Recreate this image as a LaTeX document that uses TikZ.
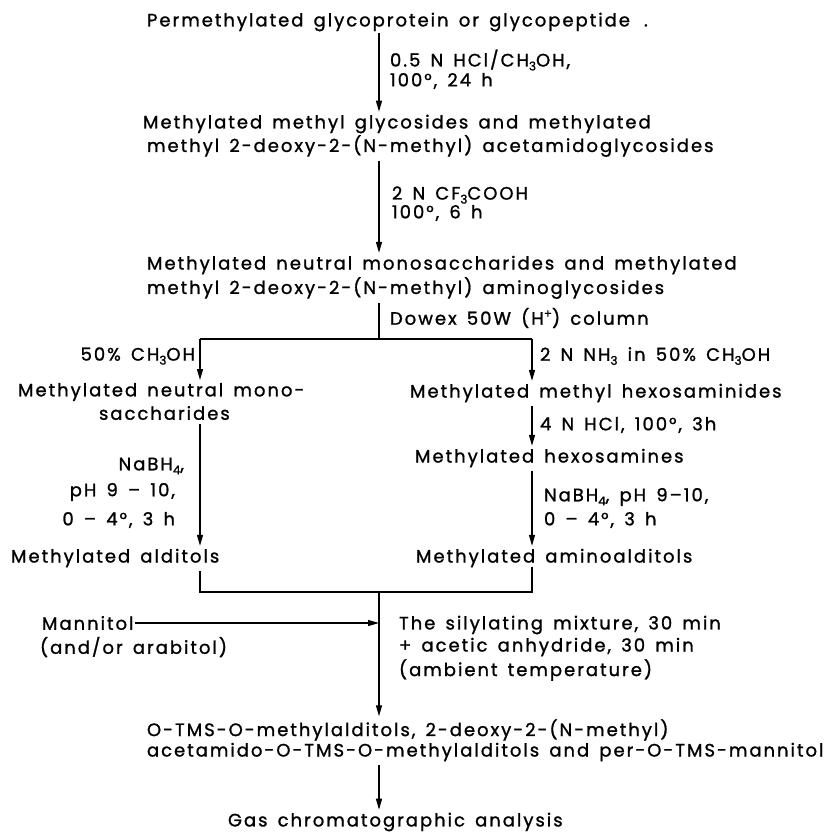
\documentclass[tikz,border=0pt]{standalone}
\usepackage{fontspec}
\setmainfont{Poppins}[LetterSpace=11,WordSpace=1.5,FakeBold=1.2]
\usetikzlibrary{arrows.meta}
\newcommand{\lsub}[1]{\raisebox{-0.4ex}{\fontsize{12}{12}\selectfont #1}}
\newcommand{\lsup}[1]{\raisebox{0.7ex}{\fontsize{12}{12}\selectfont #1}}
\begin{document}
\begin{tikzpicture}[x=1pt,y=-1pt,
  txt/.style={inner sep=0pt, outer sep=0pt, font=\fontsize{18}{18}\selectfont, anchor=west},
  rtxt/.style={txt, anchor=east},
  ln/.style={line width=1.3pt},
  arr/.style={ln, -{Triangle[length=11pt,width=6pt]}, shorten >=3pt},
]
\useasboundingbox (0,0) rectangle (835,833);
\coordinate (cx) at (379,0);
\coordinate (lx) at (200,0);
\coordinate (rx) at (532,0);
\coordinate (split) at (379,339);
\coordinate (join) at (379,592);

\node[txt] (title) at (147,22) {Permethylated glycoprotein or glycopeptide\hspace{14pt}\mbox{.}};
\node[txt] (c1a) at (390,60) {0.5 N HCl/CH\lsub{3}OH,};
\node[txt] (c1b) at (390,81) {100°, 24 h};
\node[txt] (l1a) at (143,124) {Methylated methyl glycosides and methylated};
\node[txt] (l1b) at (147,146) {methyl 2-deoxy-2-(N-methyl) acetamidoglycosides};
\node[txt] (c2a) at (392,195) {2 N CF\lsub{3}COOH};
\node[txt] (c2b) at (392,213) {100°, 6 h};
\node[txt] (l2a) at (147,265) {Methylated neutral monosaccharides and methylated};
\node[txt] (l2b) at (147,288) {methyl 2-deoxy-2-(N-methyl) aminoglycosides};
\node[txt] (dowex) at (390,318) {Dowex 50W (H\lsup{+}) column};
\node[rtxt] (c3l) at (195,356) {50\% CH\lsub{3}OH};
\node[txt] (c3r) at (540,356) {2 N NH\lsub{3} in 50\% CH\lsub{3}OH};
\node[txt] (mono) at (18,392) {Methylated neutral mono-};
\node[txt] (sacch) at (99,413) {saccharides};
\node[txt] (hexm) at (410,393) {Methylated methyl hexosaminides};
\node[txt] (c4) at (540,425) {4 N HCl, 100°, 3h};
\node[txt] (hexa) at (415,458) {Methylated hexosamines};
\node[rtxt] (c5a) at (184,466) {NaBH\lsub{4},};
\node[rtxt] (c5b) at (175,492) {pH 9 -- 10,};
\node[rtxt] (c5c) at (175,520) {0 -- 4°, 3 h};
\node[txt] (c6a) at (544,497) {NaBH\lsub{4}, pH 9--10,};
\node[txt] (c6b) at (544,520) {0 -- 4°, 3 h};
\node[txt] (ald) at (11,558) {Methylated alditols};
\node[txt] (amino) at (416,558) {Methylated aminoalditols};
\node[txt] (mann) at (42,623) {Mannitol};
\node[txt] (arab) at (40,647) {(and/or arabitol)};
\node[txt] (s1) at (399,625) {The silylating mixture, 30 min};
\node[txt] (s2) at (399,647) {+ acetic anhydride, 30 min};
\node[txt] (s3) at (399,670) {(ambient temperature)};
\node[txt] (otms) at (147,730) {O-TMS-O-methylalditols, 2-deoxy-2-(N-methyl)};
\node[txt] (acet) at (147,752) {acetamido-O-TMS-O-methylalditols and per-O-TMS-mannitol};
\node[txt] (gas) at (228,822) {Gas chromatographic analysis};

\draw[arr, shorten <=2pt] (title.south -| cx) -- (l1a.north -| cx);
\draw[arr, shorten <=4pt] (l1b.south -| cx) -- (l2a.north -| cx);
\draw[ln, shorten <=4pt] (l2b.south -| cx) -- (split);
\draw[ln] (split -| lx) -- (split -| rx);
\draw[arr] (split -| lx) -- (mono.north -| lx);
\draw[arr] (split -| rx) -- (hexm.north -| rx);
\draw[arr, shorten <=4pt] (hexm.south -| rx) -- (hexa.north -| rx);
\draw[arr, shorten <=4pt] (hexa.south -| rx) -- (amino.north -| rx);
\draw[arr, shorten <=4pt] (sacch.south -| lx) -- (ald.north -| lx);
\draw[ln, shorten <=4pt] (ald.south -| lx) -- (join -| lx) -- (join -| rx) -- (amino.south -| rx);
\draw[arr] (join) -- (otms.north -| cx);
\draw[arr, shorten >=0pt, shorten <=2pt] (mann.east) -- (mann.east -| cx);
\draw[arr, shorten <=4pt] (acet.south -| cx) -- (gas.north -| cx);
\end{tikzpicture}
\end{document}
